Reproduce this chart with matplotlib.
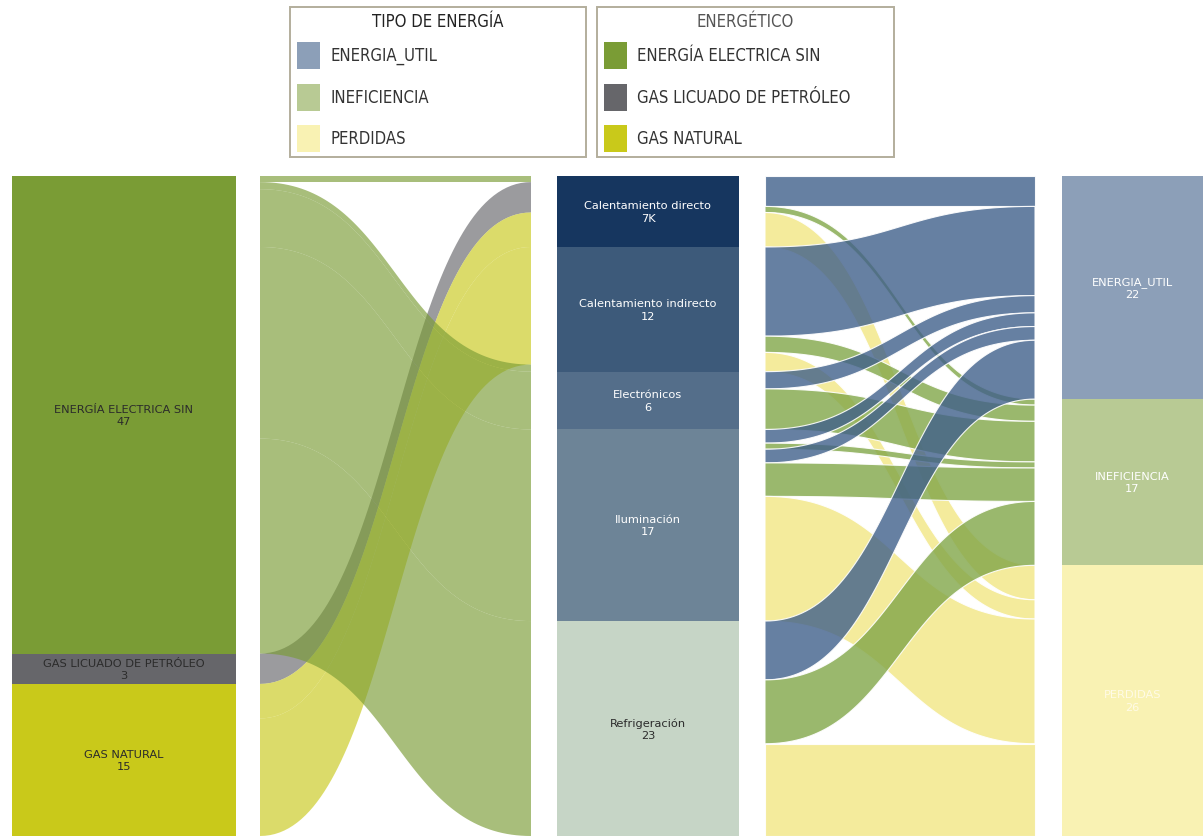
import matplotlib
matplotlib.use("Agg")
import matplotlib.pyplot as plt
from matplotlib.patches import Rectangle, Polygon
import numpy as np

# ---- datos ----
energeticos = ["ENERGÍA ELECTRICA SIN", "GAS LICUADO DE PETRÓLEO", "GAS NATURAL"]
energetico_labels = ["47", "3", "15"]
usos = ["Calentamiento directo", "Calentamiento indirecto", "Electrónicos",
        "Iluminación", "Refrigeración"]
uso_labels = ["7K", "12", "6", "17", "23"]
tipos = ["ENERGIA_UTIL", "INEFICIENCIA", "PERDIDAS"]
tipo_labels = ["22", "17", "26"]

# energetico -> uso (el orden de la lista es el orden de apilado)
f1_src = [0, 1, 2, 2, 0, 0, 0, 0]
f1_dst = [0, 0, 0, 1, 1, 2, 3, 4]
f1_val = [0.6, 3.0, 3.4, 11.6, 0.7, 5.7, 18.9, 21.2]

# uso -> tipo de energia
f2_src = [0, 0, 0, 1, 1, 1, 2, 2, 3, 3, 3, 3, 3, 4, 4, 4]
f2_dst = [0, 1, 2, 0, 1, 2, 0, 1, 0, 1, 0, 1, 2, 0, 1, 2]
f2_val = [3.0, 0.6, 3.4, 8.8, 1.6, 1.9, 1.7, 4.0, 1.35, 0.6, 1.35, 3.3, 12.3, 5.8, 6.3, 9.1]

# ---- estilo ----
col_energetico = ["#7a9c35", "#66666a", "#c9c91a"]
col_uso = ["#16365f", "#3d5a7a", "#546e8a", "#6d8497", "#c6d5c6"]
col_tipo = ["#8c9fb8", "#b8ca94", "#f9f2b3"]
col_flujo_tipo = ["#40608b", "#81a648", "#f2e783"]
txt_uso = ["white", "white", "white", "white", "#2b2b2b"]
txt_tipo = ["white", "white", "#fffbe6"]

W, H = 1203, 837
TOP = 177
fig = plt.figure(figsize=(W / 100, H / 100), dpi=100)
fig.patch.set_facecolor("white")
ax = fig.add_axes([0, 0, 1, (H - TOP) / H])
total = sum(f1_val)
ax.set_xlim(0, W)
ax.set_ylim(total, 0)
ax.axis("off")


def totals(idx, vals, n):
    out = [0.0] * n
    for i, v in zip(idx, vals):
        out[i] += v
    return out


v_energetico = totals(f1_src, f1_val, 3)
v_uso = totals(f2_src, f2_val, 5)
v_tipo = totals(f2_dst, f2_val, 3)


def columna(x0, x1, vals, colors, names, labels, tcolors):
    bottoms = np.cumsum([0] + vals[:-1])
    ax.bar((x0 + x1) / 2, vals, bottom=bottoms, width=x1 - x0, color=colors,
           linewidth=0)
    for b, v, n, l, c in zip(bottoms, vals, names, labels, tcolors):
        ax.text((x0 + x1) / 2, b + v / 2, n + "\n" + l, ha="center", va="center",
                fontsize=8.2, color=c, linespacing=1.3)
    return bottoms


def banda(x0, x1, a0, b0, a1, b1, color, lw):
    t = np.linspace(0, 1, 80)
    xm = (x0 + x1) / 2
    bx = (1 - t) ** 3 * x0 + 3 * (1 - t) ** 2 * t * xm + 3 * (1 - t) * t ** 2 * xm + t ** 3 * x1
    s = 3 * (1 - t) * t ** 2 + t ** 3
    top = a0 + (a1 - a0) * s
    bot = b0 + (b1 - b0) * s
    verts = np.column_stack([np.r_[bx, bx[::-1]], np.r_[top, bot[::-1]]])
    ax.add_patch(Polygon(verts, closed=True, facecolor=color,
                         edgecolor=(1, 1, 1, 0.9) if lw else "none", linewidth=lw))


def flujos(x0, x1, src, dst, vals, src_base, dst_base, colors, lw):
    so = list(src_base)
    do = list(dst_base)
    for s, d, v, c in zip(src, dst, vals, colors):
        banda(x0, x1, so[s], so[s] + v, do[d], do[d] + v, c, lw)
        so[s] += v
        do[d] += v


b_en = columna(12, 236, v_energetico, col_energetico, energeticos,
               energetico_labels, ["#2b2b2b"] * 3)
b_uso = columna(557, 739, v_uso, col_uso, usos, uso_labels, txt_uso)
b_tipo = columna(1062, 1203, v_tipo, col_tipo, tipos, tipo_labels, txt_tipo)

c1 = [matplotlib.colors.to_rgba(col_energetico[s], 0.65) for s in f1_src]
flujos(260, 531, f1_src, f1_dst, f1_val, b_en, b_uso, c1, 0)
c2 = [matplotlib.colors.to_rgba(col_flujo_tipo[d], 0.8) for d in f2_dst]
flujos(765, 1035, f2_src, f2_dst, f2_val, b_uso, b_tipo, c2, 0.8)

# ---- leyendas ----
lg = fig.add_axes([0, 0, 1, 1])
lg.set_xlim(0, W)
lg.set_ylim(H, 0)
lg.axis("off")
fuente = dict(family="DejaVu Sans", stretch="condensed")


def leyenda(x0, x1, titulo, names, colors, title_color):
    lg.add_patch(Rectangle((x0, 8), x1 - x0, 150, fill=False, edgecolor="#b3ae9c",
                           linewidth=1.4))
    lg.text((x0 + x1) / 2, 22, titulo, ha="center", va="center", fontsize=12,
            color=title_color, **fuente)
    for i, (n, c) in enumerate(zip(names, colors)):
        yc = 56 + i * 41.5
        lg.add_patch(Rectangle((x0 + 7, yc - 13), 23, 27, facecolor=c, edgecolor="none"))
        lg.text(x0 + 40, yc, n, ha="left", va="center", fontsize=12,
                color="#333333", **fuente)


leyenda(290, 586, "TIPO DE ENERGÍA", tipos, col_tipo, "#222222")
leyenda(597, 894, "ENERGÉTICO", energeticos, col_energetico, "#555555")

fig.savefig("out.png", dpi=100, facecolor="white")
